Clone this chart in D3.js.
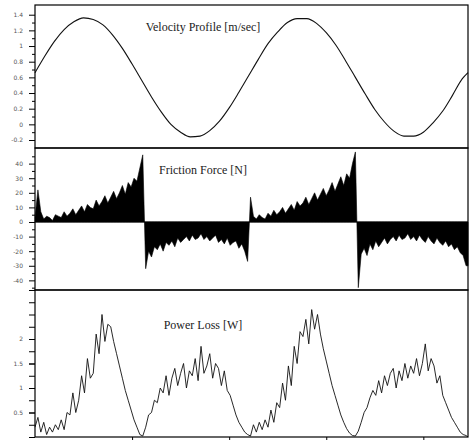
<!DOCTYPE html>
<html>
<head>
<meta charset="utf-8">
<script src="https://cdn.jsdelivr.net/npm/d3@7"></script>
<style>
  html, body { margin: 0; padding: 0; background: #fff; }
  svg { display: block; }
  .title { font-family: "Liberation Serif", "DejaVu Serif", serif; font-size: 12px; fill: #222; }
  .tick-label { font-family: "DejaVu Sans", sans-serif; font-size: 6px; fill: #555; }
</style>
</head>
<body>
<svg id="chart" width="473" height="440"></svg>
<script>
// Time grid (seconds); all series are sampled on it
const timeEnd = 4.46;
const timeTicks = [0, 1, 2, 3, 4];

// Velocity profile [m/sec], sampled every 0.1 s
const velocityStep = 0.1;
const velocity = [
  0.66, 0.87, 1.06, 1.21, 1.31, 1.36, 1.34, 1.27, 1.14, 0.97,
  0.77, 0.56, 0.35, 0.16, 0.00, -0.10, -0.16, -0.15, -0.08, 0.04,
  0.21, 0.41, 0.62, 0.83, 1.03, 1.18, 1.30, 1.35, 1.35, 1.29,
  1.17, 1.01, 0.81, 0.60, 0.39, 0.19, 0.03, -0.09, -0.15, -0.15,
  -0.10, 0.02, 0.17, 0.37, 0.58
];
const velocityLast = { t: 4.46, v: 0.66 };
const velocityTicks = [-0.2, 0, 0.2, 0.4, 0.6, 0.8, 1, 1.2, 1.4];
const velocityTickLabels = ["-0.2", "0", "0.2", "0.4", "0.6", "0.8", "1", "1.2", "1.4"];

// Friction force [N] and power loss [W], sampled every 0.03 s
const sampleStep = 0.03;
const friction = [
  // forward stroke 1
  3, 22, 7, 2, 4, 3, 1, 5, 4, 3,
  7, 4, 6, 9, 5, 8, 11, 7, 12, 10,
  9, 15, 11, 14, 18, 13, 17, 21, 16, 20,
  25, 19, 27, 24, 30, 28, 37, 46,
  // return stroke 1
  -32, -20, -24, -17, -19, -15, -20, -14, -16, -13,
  -17, -11, -14, -12, -10, -13, -9, -12, -11, -8,
  -12, -10, -13, -11, -9, -14, -12, -15, -11, -16,
  -14, -13, -18, -15, -20, -27,
  // forward stroke 2
  17, 4, 2, 5, 3, 2, 6, 4, 8, 5,
  7, 10, 6, 9, 12, 8, 14, 11, 13, 17,
  12, 16, 20, 15, 19, 23, 18, 22, 27, 21,
  26, 31, 25, 33, 30, 40, 48,
  // return stroke 2
  -45, -22, -18, -23, -15, -19, -13, -17, -14, -11,
  -15, -12, -10, -13, -9, -12, -11, -8, -12, -10,
  -13, -9, -12, -14, -10, -13, -15, -11, -14, -16,
  -13, -17, -15, -19, -17, -21, -23, -30
];
const frictionTicks = [-40, -30, -20, -10, 0, 10, 20, 30, 40];
const frictionMinorTicks = [-45, -35, -25, -15, -5, 5, 15, 25, 35, 45];

const power = [
  0.2, 0.4, 0.1, 0.3, 0.05, 0.2, 0.1, 0.25, 0.15, 0.35,
  0.15, 0.5, 0.45, 0.9, 0.5, 0.75, 1.25, 0.9, 1.6, 1.2,
  1.3, 2.1, 1.7, 2.5, 1.95, 2.3, 2.25, 1.95, 1.7, 1.45,
  1.2, 0.95, 0.75, 0.55, 0.35, 0.2, 0.05, 0.02,
  0.2, 0.45, 0.5, 0.75, 0.7, 1.0, 0.9, 1.25, 0.85, 1.2,
  1.4, 1.05, 1.3, 1.5, 1.0, 1.35, 1.25, 1.6, 1.15, 1.85,
  1.3, 1.45, 1.7, 1.2, 1.5, 1.4, 1.05, 1.35, 0.95, 0.85,
  0.65, 0.45, 0.3, 0.2, 0.1, 0.05, 0.02,
  0.25, 0.1, 0.3, 0.15, 0.35, 0.2, 0.55, 0.3, 0.7, 0.6,
  1.1, 0.75, 1.45, 1.05, 1.85, 1.5, 2.15, 2.05, 2.4, 1.9,
  2.6, 2.2, 2.5, 2.1, 1.8, 1.55, 1.3, 1.05, 0.85, 0.65,
  0.45, 0.3, 0.17, 0.08, 0.03, 0.02, 0.12,
  0.3, 0.5, 0.6, 0.8, 0.95, 0.85, 1.15, 0.9, 1.25, 1.05,
  1.3, 1.4, 1.0, 1.35, 1.15, 1.5, 1.2, 1.45, 1.3, 1.6,
  1.25, 1.5, 1.9, 1.35, 1.6, 1.45, 1.1, 1.25, 0.85, 0.7,
  0.55, 0.4, 0.3, 0.2, 0.1, 0.05, 0.03
];
const powerTicks = [0, 0.25, 0.5, 0.75, 1, 1.25, 1.5, 1.75, 2, 2.25, 2.5, 2.75, 3];
const powerLabelTicks = [0.5, 1, 1.5, 2];
const powerTickLabels = ["0.5", "1", "1.5", "2"];

const titles = ["Velocity Profile [m/sec]", "Friction Force [N]", "Power Loss [W]"];

// ---- layout ----
const left = 35, right = 468;
const panels = [
  { top: 5, bottom: 148 },
  { top: 148, bottom: 290 },
  { top: 290, bottom: 437 }
];

const svg = d3.select("#chart");

const x = d3.scaleLinear().domain([0, timeEnd]).range([left, right]);

const yVel = d3.scaleLinear().domain([-0.302, 1.524]).range([panels[0].bottom, panels[0].top]);
const yFri = d3.scaleLinear().domain([-46.6, 50.7]).range([panels[1].bottom, panels[1].top]);
const yPow = d3.scaleLinear().domain([0, 3]).range([panels[2].bottom, panels[2].top]);

// ---- data marks ----
const velPts = velocity.map((v, i) => ({ t: i * velocityStep, v }));
velPts.push(velocityLast);

svg.append("path")
  .datum(velPts)
  .attr("fill", "none")
  .attr("stroke", "#111")
  .attr("stroke-width", 1.1)
  .attr("d", d3.line().x(d => x(d.t)).y(d => yVel(d.v)).curve(d3.curveMonotoneX));

const friPts = friction.map((f, i) => ({ t: i * sampleStep, f }));
friPts.push({ t: timeEnd, f: friction[friction.length - 1] });

svg.append("path")
  .datum(friPts)
  .attr("fill", "#000")
  .attr("stroke", "#000")
  .attr("stroke-width", 0.6)
  .attr("stroke-linejoin", "miter")
  .attr("d", d3.area().x(d => x(d.t)).y0(yFri(0)).y1(d => yFri(d.f)));

svg.append("line")
  .attr("x1", left).attr("x2", right)
  .attr("y1", yFri(0)).attr("y2", yFri(0))
  .attr("stroke", "#000").attr("stroke-width", 1.2);

const powPts = power.map((p, i) => ({ t: i * sampleStep, p }));
powPts.push({ t: timeEnd, p: 0 });

svg.append("path")
  .datum(powPts)
  .attr("fill", "none")
  .attr("stroke", "#111")
  .attr("stroke-width", 0.9)
  .attr("d", d3.line().x(d => x(d.t)).y(d => yPow(d.p)));

// ---- frames ----
panels.forEach(p => {
  svg.append("rect")
    .attr("x", left).attr("y", p.top)
    .attr("width", right - left).attr("height", p.bottom - p.top)
    .attr("fill", "none").attr("stroke", "#000").attr("stroke-width", 1.2);
});

// ---- axes ----
function leftAxis(scale, ticks, size, labels) {
  const ax = d3.axisLeft(scale).tickValues(ticks).tickSize(size).tickSizeOuter(0);
  ax.tickFormat(labels ? ((d, i) => labels[i]) : () => "");
  const g = svg.append("g").attr("transform", `translate(${left},0)`).call(ax);
  g.select(".domain").remove();
  g.selectAll("line").attr("stroke", "#000").attr("stroke-width", 1);
  g.selectAll("text").attr("class", "tick-label").attr("x", -size - 6);
  return g;
}

const velMinor = velocityTicks.slice(0, -1).map(v => +(v + 0.1).toFixed(2));
leftAxis(yVel, velMinor, 3, null);
leftAxis(yVel, velocityTicks, 6, velocityTickLabels);

leftAxis(yFri, frictionMinorTicks, 3, null);
leftAxis(yFri, frictionTicks, 6, frictionTicks.map(String));

leftAxis(yPow, powerTicks, 6, null);
leftAxis(yPow, powerLabelTicks, 6, powerTickLabels);

const xAx = d3.axisBottom(x).tickValues(timeTicks.slice(1)).tickSize(3).tickFormat(() => "");
const gx = svg.append("g").attr("transform", `translate(0,${panels[2].bottom})`).call(xAx);
gx.select(".domain").remove();
gx.selectAll("line").attr("stroke", "#000");

// ---- titles ----
const titleY = [31, 174, 329];
titles.forEach((t, i) => {
  svg.append("text")
    .attr("class", "title")
    .attr("x", 203).attr("y", titleY[i])
    .attr("text-anchor", "middle")
    .text(t);
});
</script>
</body>
</html>
